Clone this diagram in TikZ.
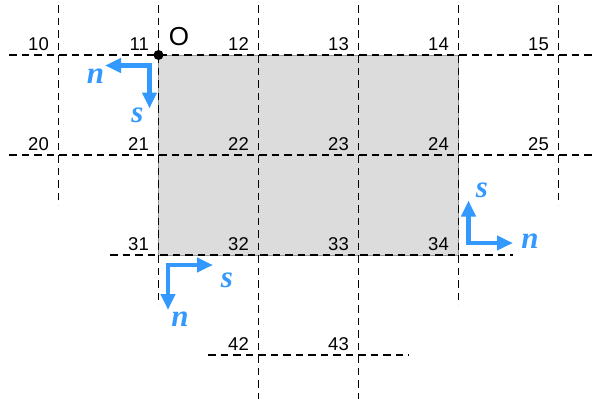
\documentclass[tikz,border=0pt]{standalone}
\usepackage{fontspec}
\setmainfont{Liberation Sans}
\newfontfamily\vecfont{Liberation Serif}
\usetikzlibrary{arrows.meta}
\definecolor{vblue}{RGB}{51,153,255}
\definecolor{shade}{RGB}{220,220,220}
\tikzset{
  gridline/.style={draw=black, line width=1.7pt, dash pattern=on 7.5pt off 5pt},
  numlabel/.style={anchor=base east, inner sep=0pt, font=\fontsize{18.5}{20}\selectfont},
  vecarrow/.style={draw=vblue, line width=4.5pt, line join=miter,
     {Triangle[length=16pt,width=14pt]}-{Triangle[length=16pt,width=14pt]}},
  veclabel/.style={text=vblue, inner sep=0pt, font=\vecfont\bfseries\itshape\fontsize{31}{34}\selectfont},
}
\begin{document}
\begin{tikzpicture}[x=1pt,y=-1pt]
\useasboundingbox (0,0) rectangle (599,399);
% shaded region
\filldraw[fill=shade, draw=gray!80, line width=0.8pt] (158.5,55) rectangle (458.5,255);
% vertical grid lines
\draw[gridline] (58.5,5) -- (58.5,205);
\draw[gridline] (158.5,5) -- (158.5,305);
\draw[gridline] (258.5,5) -- (258.5,399);
\draw[gridline] (358.5,5) -- (358.5,399);
\draw[gridline] (458.5,5) -- (458.5,305);
\draw[gridline] (558.5,5) -- (558.5,205);
% horizontal grid lines
\draw[gridline] (9,55) -- (592,55);
\draw[gridline] (9,155) -- (592,155);
\draw[gridline] (110,255) -- (513,255);
\draw[gridline] (208,355) -- (409,355);
% labels
\foreach \lab/\x in {10/58.5,11/158.5,12/258.5,13/358.5,14/458.5,15/558.5}
  \node[numlabel] (l\lab) at (\x-9.5,50.7) {\lab};
\foreach \lab/\x in {20/58.5,21/158.5,22/258.5,23/358.5,24/458.5,25/558.5}
  \node[numlabel] (l\lab) at (\x-9.5,150.7) {\lab};
\foreach \lab/\x in {31/158.5,32/258.5,33/358.5,34/458.5}
  \node[numlabel] (l\lab) at (\x-9.5,250.7) {\lab};
\foreach \lab/\x in {42/258.5,43/358.5}
  \node[numlabel] (l\lab) at (\x-9.5,350.7) {\lab};
% origin
\fill (158.5,55) circle (5pt);
\node[inner sep=0pt, font=\fontsize{26}{28}\selectfont] (O) at (179,36.5) {O};
% top-left frame
\coordinate (c1) at (149.5,65.5);
\coordinate (n1) at (105,65.5);
\coordinate (s1) at (149.5,108.5);
\draw[vecarrow] (n1) -- (c1) -- (s1);
\node[veclabel] (ln1) at (95.5,76) {n};
\node[veclabel] (ls1) at (137.5,115) {s};
% bottom-left frame
\coordinate (c2) at (168,265);
\coordinate (s2) at (213,265);
\coordinate (n2) at (168,310);
\draw[vecarrow] (s2) -- (c2) -- (n2);
\node[veclabel] (ls2) at (227,280) {s};
\node[veclabel] (ln2) at (180,319) {n};
% bottom-right frame
\coordinate (c3) at (468.5,243);
\coordinate (s3) at (468.5,200.5);
\coordinate (n3) at (513,243);
\draw[vecarrow] (s3) -- (c3) -- (n3);
\node[veclabel] (ls3) at (482,190) {s};
\node[veclabel] (ln3) at (530,241) {n};
\end{tikzpicture}
\end{document}
